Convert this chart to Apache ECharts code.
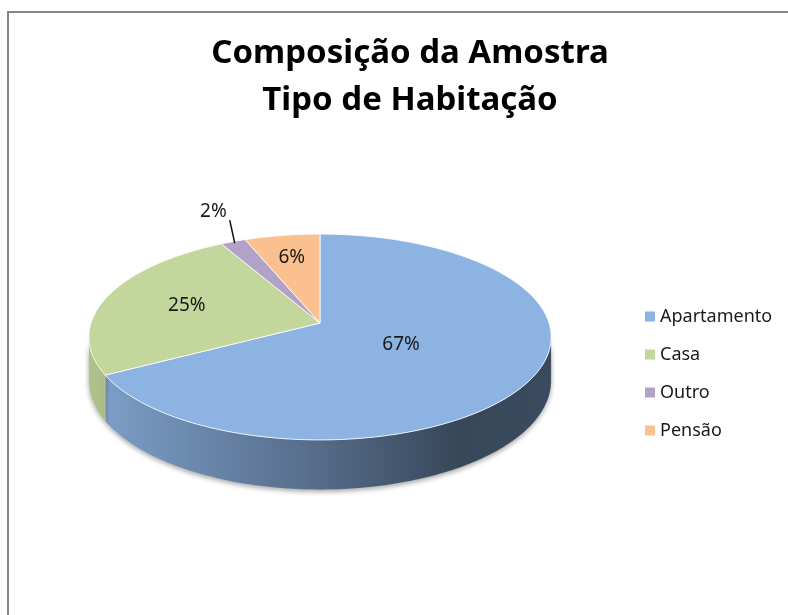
<!DOCTYPE html>
<html>
<head>
<meta charset="utf-8">
<script src="https://cdn.jsdelivr.net/npm/echarts@6/dist/echarts.min.js"></script>
<style>
  html, body { margin: 0; padding: 0; background: #fff; }
  #chart { width: 788px; height: 615px; }
</style>
</head>
<body>
<div id="chart"></div>
<script>
// data
const categories = ['Apartamento', 'Casa', 'Outro', 'Pensão']
const values = [67, 25, 2, 6]
const percentLabels = ['67%', '25%', '2%', '6%']
const colors = ['#8DB3E2', '#C3D69B', '#B3A2C7', '#FAC090']

// layout of the tilted pie (pixels)
const pie = { cx: 320, cy: 323, rx: 229, ry: 101, persp: 0.136, depth: 43 }
const labelRadius = { 'Apartamento': 0.4, 'Casa': 0.62, 'Outro': 0.98, 'Pensão': 0.72 }
const FONT = '"Noto Sans", "DejaVu Sans", sans-serif'

const total = values.reduce((s, v) => s + v, 0)
const starts = []
values.reduce((acc, v, i) => { starts[i] = acc; return acc + v }, 0)

// angle clockwise from 12 o'clock, r in 0..1, dy: 0 top face, 1 bottom rim
function project(theta, r, dy) {
  const x = Math.sin(theta) * r
  const z = Math.cos(theta) * r
  const s = 1 / (1 + pie.persp * z)
  return [pie.cx + pie.rx * x * s, pie.cy - pie.ry * z * s + pie.depth * s * dy]
}

function arc(t1, t2, r, dy) {
  const n = Math.max(2, Math.ceil((t2 - t1) / (Math.PI / 180)))
  const pts = []
  for (let k = 0; k <= n; k++) {
    pts.push(project(t1 + (t2 - t1) * k / n, r, dy))
  }
  return pts
}

function shade(hex, f) {
  const n = parseInt(hex.slice(1), 16)
  const c = [(n >> 16) & 255, (n >> 8) & 255, n & 255].map(v => Math.round(v * f))
  return 'rgb(' + c.join(',') + ')'
}

function renderSlice(params, api) {
  const i = params.seriesIndex
  const t1 = starts[i] / total * Math.PI * 2
  const t2 = (starts[i] + values[i]) / total * Math.PI * 2
  const color = colors[i]
  const children = []

  // visible side wall (front half)
  const limbA = Math.acos(-pie.persp)
  const limbB = Math.PI * 2 - limbA
  const s1 = Math.max(t1, limbA)
  const s2 = Math.min(t2, limbB)
  if (s2 > s1) {
    const pts = arc(s1, s2, 1, 0).concat(arc(s1, s2, 1, 1).reverse())
    children.push({
      type: 'polygon',
      z2: 1,
      shape: { points: pts },
      style: {
        fill: {
          type: 'linear', global: true,
          x: pie.cx - pie.rx, y: 0, x2: pie.cx + pie.rx, y2: 0,
          colorStops: [
            { offset: 0, color: shade(color, 0.9) },
            { offset: 0.5, color: shade(color, 0.6) },
            { offset: 0.8, color: shade(color, 0.4) },
            { offset: 1, color: shade(color, 0.42) }
          ]
        },
        stroke: 'rgba(255,255,255,0.25)',
        lineWidth: 0.6,
        shadowBlur: 5,
        shadowOffsetY: 2,
        shadowColor: 'rgba(0,0,0,0.35)'
      }
    })
  }

  // top face
  children.push({
    type: 'polygon',
    z2: 2,
    shape: { points: [project(0, 0, 0)].concat(arc(t1, t2, 1, 0)) },
    style: { fill: color, stroke: 'rgba(255,255,255,0.8)', lineWidth: 1 }
  })

  // label
  const mid = (t1 + t2) / 2
  const r = labelRadius[categories[i]]
  const p = project(mid, r, 0)
  if (values[i] / total < 0.04) {
    const end = [p[0] - 5, p[1] - 23]
    children.push({
      type: 'line',
      z2: 3,
      shape: { x1: p[0], y1: p[1], x2: end[0], y2: end[1] },
      style: { stroke: '#111', lineWidth: 1.5 }
    })
    children.push({
      type: 'text',
      z2: 3,
      style: {
        text: percentLabels[i], x: end[0] - 3, y: end[1] - 8,
        align: 'right', verticalAlign: 'middle',
        fill: '#1a1a1a', font: '19px ' + FONT
      }
    })
  } else {
    children.push({
      type: 'text',
      z2: 3,
      style: {
        text: percentLabels[i], x: p[0], y: p[1],
        align: 'center', verticalAlign: 'middle',
        fill: '#1a1a1a', font: '19px ' + FONT
      }
    })
  }

  return { type: 'group', children: children }
}

const chart = echarts.init(document.getElementById('chart'), null, { renderer: 'canvas' })

const option = {
  backgroundColor: '#fff',
  animation: false,
  title: {
    text: 'Composição da Amostra\nTipo de Habitação',
    left: 405,
    top: 25,
    textAlign: 'center',
    textStyle: {
      fontFamily: FONT,
      fontSize: 33,
      fontWeight: 'bold',
      color: '#000',
      lineHeight: 47
    }
  },
  legend: {
    orient: 'vertical',
    left: 640,
    top: 301,
    itemWidth: 10,
    itemHeight: 10,
    itemGap: 17,
    icon: 'rect',
    data: categories,
    textStyle: { fontFamily: FONT, fontSize: 18, color: '#1a1a1a', lineHeight: 21 }
  },
  graphic: [{
    type: 'rect',
    shape: { x: 8, y: 12, width: 800, height: 620 },
    style: { fill: 'none', stroke: '#868686', lineWidth: 2 },
    silent: true
  }],
  series: categories.map((name, i) => ({
    type: 'custom',
    name: name,
    coordinateSystem: 'none',
    itemStyle: { color: colors[i] },
    renderItem: renderSlice,
    data: [values[i]]
  }))
}

chart.setOption(option)
</script>
</body>
</html>
